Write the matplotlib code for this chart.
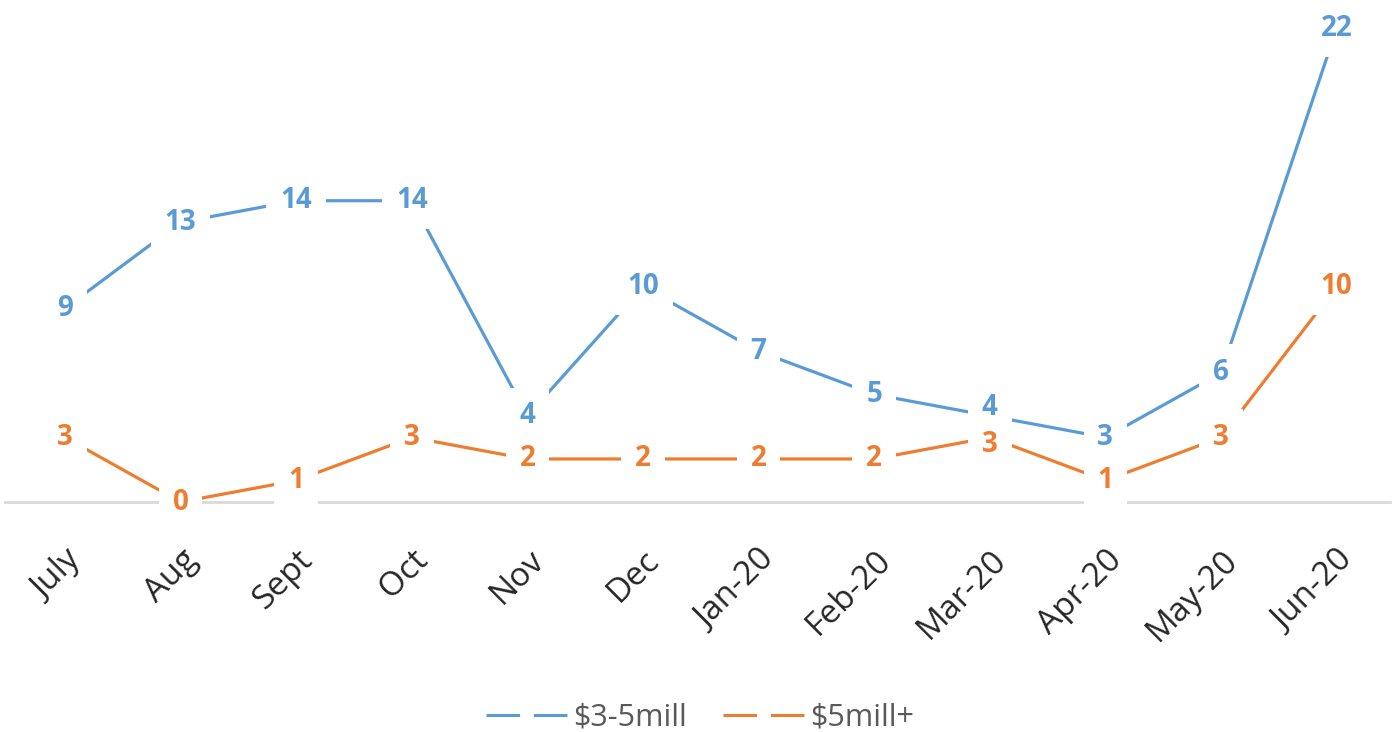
import matplotlib.pyplot as plt
from matplotlib.lines import Line2D

months = ['July', 'Aug', 'Sept', 'Oct', 'Nov', 'Dec',
          'Jan-20', 'Feb-20', 'Mar-20', 'Apr-20', 'May-20', 'Jun-20']
mid_range = [9, 13, 14, 14, 4, 10, 7, 5, 4, 3, 6, 22]
top_range = [3, 0, 1, 3, 2, 2, 2, 2, 3, 1, 3, 10]

blue = '#5b9bd5'
orange = '#ed7d31'
plt.rcParams['font.family'] = ['Open Sans', 'DejaVu Sans']

fig = plt.figure(figsize=(14, 7.32), dpi=100)
ax = fig.add_axes([0, 230 / 732, 1, 502 / 732])

x = list(range(len(months)))
# labels in March sit almost on top of each other, nudge them apart a bit
nudge = {('mid', 8): 6, ('top', 8): -5}
for key, vals, col, z in [('top', top_range, orange, 6), ('mid', mid_range, blue, 5)]:
    ax.plot(x, vals, color=col, lw=2.3, solid_capstyle='butt', zorder=3)
    for xi, v in zip(x, vals):
        ax.annotate(str(v), (xi, v), xytext=(0, nudge.get((key, xi), 0)),
                    textcoords='offset points', color=col, fontsize=20,
                    fontweight='bold', ha='center', va='center', zorder=z,
                    annotation_clip=False,
                    bbox=dict(boxstyle='square,pad=0.5', fc='white', ec='none'))

ax.set_xlim(-65 / 115.6, 1335 / 115.6)
ax.set_ylim(0, 502 / 21.52)

for s in ['top', 'left', 'right']:
    ax.spines[s].set_visible(False)
ax.spines['bottom'].set_color('#d9d9d9')
ax.spines['bottom'].set_linewidth(2)
ax.spines['bottom'].set_bounds(-60 / 115.6, 1325 / 115.6)
ax.spines['bottom'].set_zorder(1)
ax.set_yticks([])
ax.set_xticks(x)
ax.set_xticklabels(months, rotation=45, ha='right', va='top',
                   rotation_mode='anchor', fontsize=24, color='#262626')
ax.tick_params(axis='x', length=0, pad=30)

handles = [Line2D([], [], color=blue, lw=2.2, ls=(0, (11, 4.5))),
           Line2D([], [], color=orange, lw=2.2, ls=(0, (11, 4.5)))]
fig.legend(handles, ['$3-5mill', '$5mill+'], loc='lower center',
           bbox_to_anchor=(0.5, -0.038), ncol=2, frameon=False, fontsize=22,
           labelcolor='#595959', handlelength=2.7, handletextpad=0.15,
           columnspacing=1.2)

fig.savefig('out.png', dpi=100)
